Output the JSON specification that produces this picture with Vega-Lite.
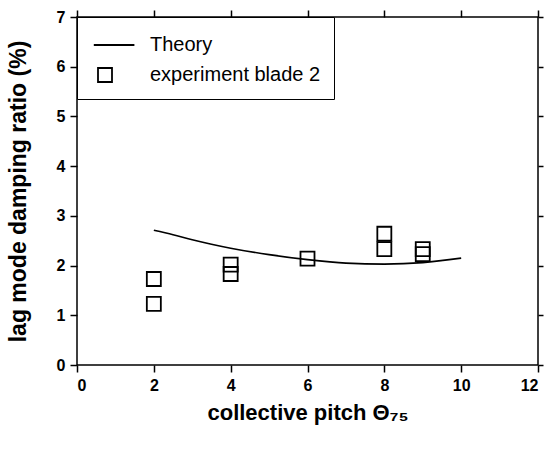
{
  "$schema": "https://vega.github.io/schema/vega-lite/v6.json",
  "width": 461,
  "height": 348,
  "autosize": {"type": "none"},
  "padding": {"left": 77, "top": 17, "right": 11, "bottom": 86},
  "background": "white",
  "config": {
    "view": {"stroke": "black", "strokeWidth": 1.5},
    "font": "Liberation Sans",
    "axis": {
      "grid": false,
      "domain": false,
      "tickColor": "black",
      "tickWidth": 1.5,
      "tickSize": 7,
      "labelFont": "Liberation Sans",
      "labelFontWeight": "bold",
      "labelFontSize": 16,
      "labelColor": "black",
      "titleFont": "Liberation Sans",
      "titleFontWeight": "bold",
      "titleFontSize": 22,
      "titleColor": "black"
    }
  },
  "datasets": {
    "theory": [
      {"pitch": 2, "damping": 2.71},
      {"pitch": 2.5, "damping": 2.62},
      {"pitch": 3, "damping": 2.52},
      {"pitch": 3.5, "damping": 2.43},
      {"pitch": 4, "damping": 2.35},
      {"pitch": 5, "damping": 2.22},
      {"pitch": 6, "damping": 2.12},
      {"pitch": 7, "damping": 2.05},
      {"pitch": 8, "damping": 2.03},
      {"pitch": 9, "damping": 2.06},
      {"pitch": 10, "damping": 2.15}
    ],
    "experiment": [
      {"pitch": 2, "damping": 1.73, "series": "experiment blade 2"},
      {"pitch": 2, "damping": 1.23, "series": "experiment blade 2"},
      {"pitch": 4, "damping": 2.02, "series": "experiment blade 2"},
      {"pitch": 4, "damping": 1.83, "series": "experiment blade 2"},
      {"pitch": 6, "damping": 2.14, "series": "experiment blade 2"},
      {"pitch": 8, "damping": 2.64, "series": "experiment blade 2"},
      {"pitch": 8, "damping": 2.33, "series": "experiment blade 2"},
      {"pitch": 9, "damping": 2.33, "series": "experiment blade 2"},
      {"pitch": 9, "damping": 2.23, "series": "experiment blade 2"}
    ]
  },
  "layer": [
    {
      "data": {"name": "theory"},
      "mark": {"type": "line", "color": "black", "strokeWidth": 1.6, "interpolate": "monotone"},
      "encoding": {
        "x": {
          "field": "pitch", "type": "quantitative",
          "scale": {"domain": [0, 12], "nice": false},
          "axis": {"orient": "bottom", "values": [0, 2, 4, 6, 8, 10, 12], "title": "collective pitch Θ₇₅", "labelPadding": 5, "titlePadding": 9}
        },
        "y": {
          "field": "damping", "type": "quantitative",
          "scale": {"domain": [0, 7], "nice": false},
          "axis": {"orient": "left", "values": [0, 1, 2, 3, 4, 5, 6, 7], "title": "lag mode damping ratio  (%)", "labelPadding": 5, "titlePadding": 26, "titleFontSize": 23}
        }
      }
    },
    {
      "data": {"name": "experiment"},
      "mark": {"type": "point", "filled": false, "color": "black", "strokeWidth": 1.8, "size": 784, "opacity": 1},
      "encoding": {
        "x": {
          "field": "pitch", "type": "quantitative",
          "axis": {"orient": "top", "values": [0, 2, 4, 6, 8, 10, 12], "labels": false, "title": null}
        },
        "y": {
          "field": "damping", "type": "quantitative",
          "axis": {"orient": "right", "values": [0, 1, 2, 3, 4, 5, 6, 7], "labels": false, "title": null, "tickSize": 5}
        },
        "shape": {
          "field": "series", "type": "nominal",
          "scale": {"domain": ["Theory", "experiment blade 2"], "range": ["M-0.8,0H2.1", "M-0.5,-0.5H0.5V0.5H-0.5Z"]},
          "legend": {
            "orient": "top-left",
            "offset": 0,
            "title": null,
            "strokeColor": "black",
            "fillColor": "white",
            "padding": 13,
            "rowPadding": 5,
            "symbolSize": 784,
            "symbolStrokeWidth": 1.8,
            "symbolStrokeColor": "black",
            "symbolFillColor": "white",
            "labelFont": "Liberation Sans",
            "labelFontSize": 20,
            "labelColor": "black",
            "labelOffset": 30,
            "labelLimit": 300
          }
        }
      }
    }
  ],
  "resolve": {"axis": {"x": "independent", "y": "independent"}}
}
